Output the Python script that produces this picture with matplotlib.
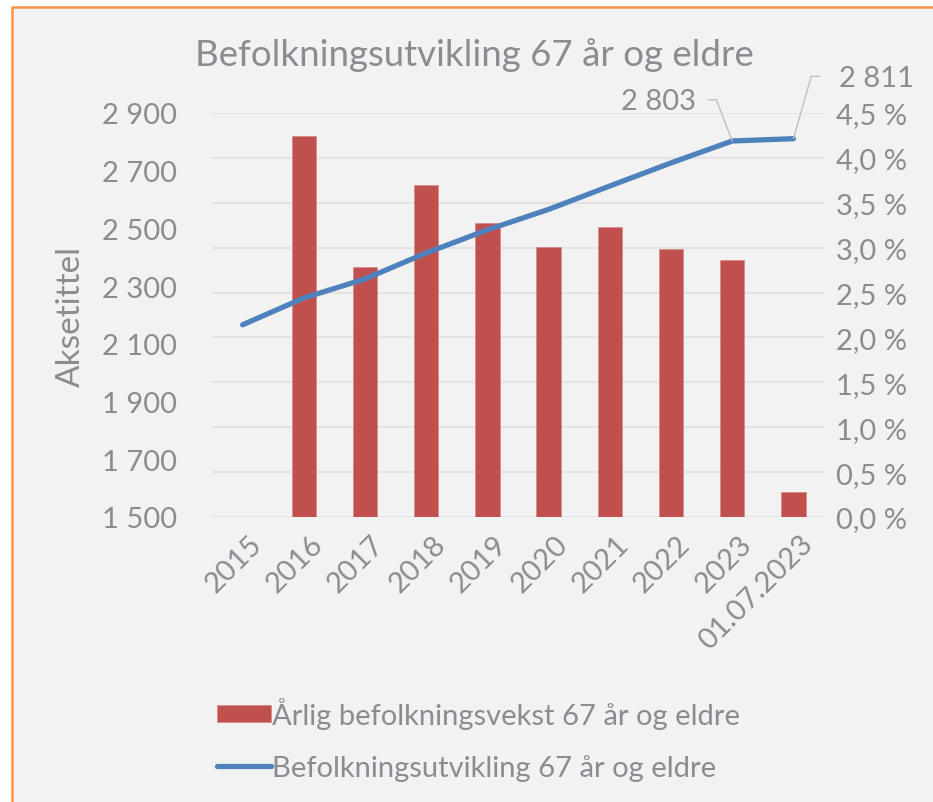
import matplotlib
matplotlib.use("Agg")
import matplotlib.pyplot as plt
import matplotlib.transforms as mtransforms
from matplotlib.patches import Rectangle
from matplotlib.ticker import FixedLocator, FuncFormatter

categories = ["2015", "2016", "2017", "2018", "2019", "2020", "2021", "2022", "2023", "01.07.2023"]
growth_pct = [None, 4.24, 2.78, 3.70, 3.28, 3.01, 3.23, 2.98, 2.86, 0.28]
population = [2166, 2259, 2325, 2415, 2495, 2566, 2647, 2727, 2803, 2811]
left_ticks = [1500, 1700, 1900, 2100, 2300, 2500, 2700, 2900]
right_ticks = [0.0, 0.5, 1.0, 1.5, 2.0, 2.5, 3.0, 3.5, 4.0, 4.5]

title = "Befolkningsutvikling 67 år og eldre"
bar_label = "Årlig befolkningsvekst 67 år og eldre"
line_label = "Befolkningsutvikling 67 år og eldre"
ylabel = "Aksetittel"

TXT = "#898c90"
BAR = "#c0504d"
LINE = "#4f81bd"
GRID = "#e3e3e3"
BG = "#f2f2f2"
FS = 21

plt.rcParams["font.family"] = ["Lato", "DejaVu Sans"]

W, H = 933, 803
fig = plt.figure(figsize=(W / 100, H / 100), dpi=100, facecolor="white")
fig.patches.append(Rectangle((11.5 / W, -0.02), 1.1, 1 - 8 / H + 0.02,
                             transform=fig.transFigure, facecolor=BG,
                             edgecolor="#f79646", linewidth=1.8, zorder=-10))

ax = fig.add_axes([212 / W, 1 - 518 / H, (824 - 212) / W, (518 - 114) / H])
ax.set_facecolor("none")
x = list(range(len(categories)))
bx = [i for i, v in zip(x, growth_pct) if v is not None]
bv = [v for v in growth_pct if v is not None]
ax.bar(bx, bv, width=0.4, color=BAR, zorder=2, edgecolor="#d48a88", linewidth=0.5)
ax.set_ylim(0, 4.5)
ax.set_xlim(-0.5, len(categories) - 0.5)
ax.grid(axis="y", color=GRID, linewidth=1.5, zorder=0)
ax.set_axisbelow(True)
for s in ax.spines.values():
    s.set_visible(False)
ax.set_xticks(x)
ax.set_xticklabels(categories, rotation=45, ha="right", va="top",
                   rotation_mode="anchor", fontsize=FS, color=TXT)
ax.tick_params(axis="x", length=0, pad=8)
off = mtransforms.ScaledTranslation(6 / 100, -2 / 100, fig.dpi_scale_trans)
for lab in ax.get_xticklabels():
    lab.set_transform(lab.get_transform() + off)

ax2 = ax.twinx()
ax2.set_facecolor("none")
ax2.plot(x, population, color=LINE, linewidth=3.8, solid_capstyle="round",
         solid_joinstyle="round", zorder=3)
ax2.set_ylim(left_ticks[0], left_ticks[-1])
for s in ax2.spines.values():
    s.set_visible(False)

# bars axis -> right ticks (percent); line axis -> left ticks
ax.yaxis.tick_right()
ax.yaxis.set_major_locator(FixedLocator(right_ticks))
ax.yaxis.set_major_formatter(FuncFormatter(lambda v, p: f"{v:.1f} %".replace(".", ",")))
ax.tick_params(axis="y", which="both", length=0, pad=9, labelsize=FS, labelcolor=TXT,
               left=False, labelleft=False, right=False, labelright=True)

ax2.yaxis.tick_left()
ax2.yaxis.set_major_locator(FixedLocator(left_ticks))
ax2.yaxis.set_major_formatter(FuncFormatter(lambda v, p: f"{int(v):,}".replace(",", " ")))
ax2.tick_params(axis="y", which="both", length=0, pad=25, labelsize=FS, labelcolor=TXT,
                left=False, labelleft=True, right=False, labelright=False)
ax2.yaxis.set_label_position("left")
ax2.set_ylabel(ylabel, fontsize=24, color=TXT)
ax2.yaxis.set_label_coords(-0.23, 0.5)
ax2.yaxis.label.set_va("center")

def fmt(v):
    return f"{v:,}".replace(",", " ")

ax2.annotate(fmt(population[8]), xy=(8, population[8]), xytext=(-36, 40),
             textcoords="offset pixels", ha="right", va="center", fontsize=FS, color=TXT,
             arrowprops=dict(arrowstyle="-", color="#bfbfbf", lw=1.0, relpos=(1, 0.55),
                             shrinkA=7, shrinkB=0,
                             connectionstyle="angle,angleA=0,angleB=111,rad=0"))
ax2.annotate(fmt(population[9]), xy=(9, population[9]), xytext=(46, 61),
             textcoords="offset pixels", ha="left", va="center", fontsize=FS, color=TXT,
             arrowprops=dict(arrowstyle="-", color="#bfbfbf", lw=1.0, relpos=(0, 0.55),
                             shrinkA=12, shrinkB=0,
                             connectionstyle="angle,angleA=0,angleB=74,rad=0"))

fig.text(474.5 / W, 1 - 55 / H, title, ha="center", va="center", fontsize=26.4, color=TXT)

handles = [ax.patches[0], ax2.lines[0]]
leg = fig.legend(handles, [bar_label, line_label], loc="upper left",
                 bbox_to_anchor=(217 / W, 1 - 698 / H), frameon=False, fontsize=FS,
                 handlelength=1.85, handleheight=0.5, handletextpad=0.05,
                 labelspacing=0.85, borderaxespad=0, borderpad=0)
for t in leg.get_texts():
    t.set_color(TXT)

fig.savefig("out.png", dpi=100, facecolor="white")
